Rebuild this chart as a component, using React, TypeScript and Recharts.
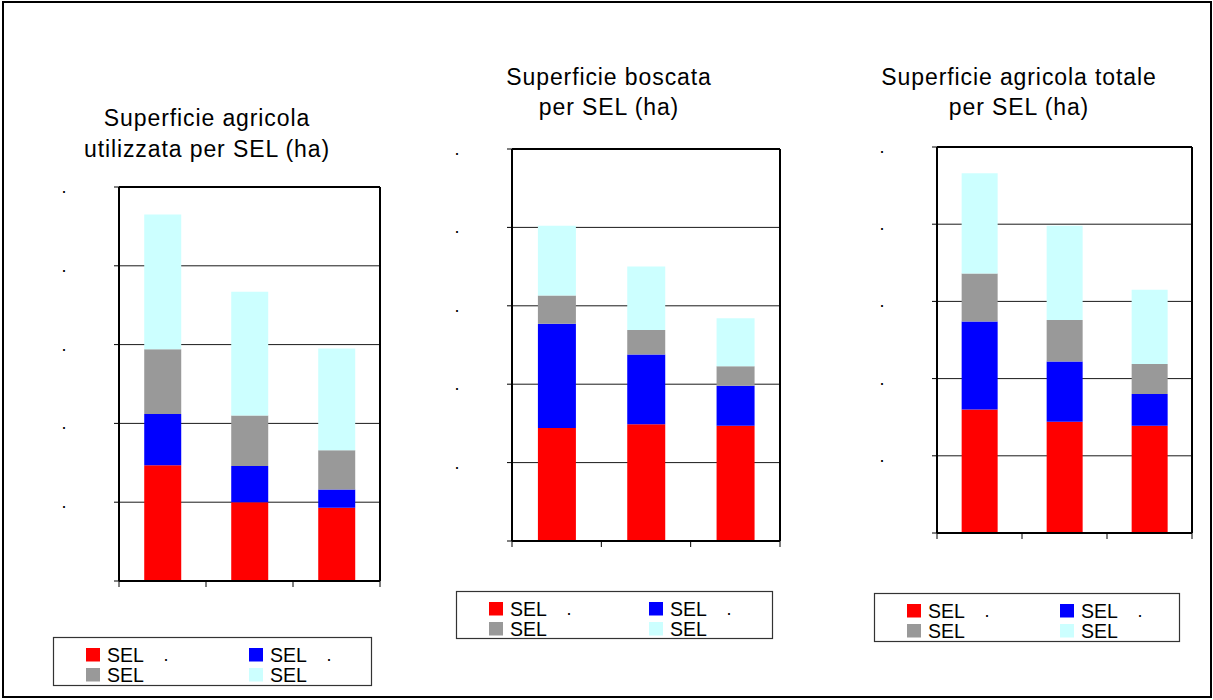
import { BarChart, Bar, XAxis, YAxis, CartesianGrid, ReferenceLine } from "recharts"

// categories (the three SEL areas) and the stacked series per chart
const categories = ["SEL 1", "SEL 2", "SEL 3"]
const seriesKeys = ["s1", "s2", "s3", "s4"]
const seriesColors = ["#FF0000", "#0000FF", "#999999", "#CCFFFF"]
const legendLabels = ["SEL", "SEL", "SEL", "SEL"]
const legendSuffix = [".", ".", "", ""]

// Superficie agricola utilizzata
const sauRed = [1.47, 1.0, 0.93]
const sauBlue = [0.65, 0.46, 0.23]
const sauGray = [0.82, 0.64, 0.5]
const sauCyan = [1.71, 1.57, 1.29]

// Superficie boscata
const boscRed = [1.44, 1.49, 1.47]
const boscBlue = [1.33, 0.89, 0.51]
const boscGray = [0.36, 0.31, 0.25]
const boscCyan = [0.89, 0.81, 0.61]

// Superficie agricola totale
const satRed = [1.6, 1.44, 1.39]
const satBlue = [1.14, 0.78, 0.41]
const satGray = [0.62, 0.54, 0.39]
const satCyan = [1.3, 1.22, 0.96]

// y ticks; the labels came through as dots only
const yTicks = [0, 1, 2, 3, 4, 5]
const yTickLabels = ["", ".", ".", ".", ".", "."]
// tick marks between the categories (excel style)
const sepTicks = [0, 1, 2, 3]

const titles = [
  ["Superficie agricola", "utilizzata per SEL (ha)"],
  ["Superficie boscata", "per SEL (ha)"],
  ["Superficie agricola totale", "per SEL (ha)"],
]

const FONT = "'Liberation Sans', Arial, sans-serif"

function buildRows(series: number[][]) {
  return categories.map((c, i) => {
    const row: Record<string, number | string> = { name: c }
    seriesKeys.forEach((k, j) => {
      row[k] = series[j][i]
    })
    return row
  })
}

const panels = [
  {
    rows: buildRows([sauRed, sauBlue, sauGray, sauCyan]),
    plot: { l: 119, t: 187, r: 380, b: 581 },
    title: { cx: 207, y1: 126, y2: 157 },
    legend: { x: 53, y: 637, w: 318, h: 48, col2: 196 },
  },
  {
    rows: buildRows([boscRed, boscBlue, boscGray, boscCyan]),
    plot: { l: 512, t: 149, r: 780, b: 541 },
    title: { cx: 609, y1: 85, y2: 115 },
    legend: { x: 456, y: 591, w: 316, h: 47, col2: 193 },
  },
  {
    rows: buildRows([satRed, satBlue, satGray, satCyan]),
    plot: { l: 937, t: 147, r: 1192, b: 533 },
    title: { cx: 1019, y1: 85, y2: 115 },
    legend: { x: 874, y: 593, w: 305, h: 48, col2: 186 },
  },
]

const DotTick = (props: any) => {
  const { x, y, payload } = props
  const idx = yTicks.indexOf(payload.value)
  return (
    <text x={x - 48} y={y + 6} fontSize={18} fontFamily={FONT} textAnchor="middle" fill="#000">
      {yTickLabels[idx] ?? ""}
    </text>
  )
}

const NoTick = () => <g />
const catPos = (d: any) => categories.indexOf(d.name) + 0.5

function Panel({ rows, plot }: { rows: any[]; plot: { l: number; t: number; r: number; b: number } }) {
  const axisW = 70
  const width = plot.r - plot.l + axisW + 10
  const height = plot.b - plot.t + 25
  return (
    <div style={{ position: "absolute", left: plot.l - axisW, top: plot.t - 10 }}>
      <BarChart
        width={width}
        height={height}
        data={rows}
        barCategoryGap="29%"
        margin={{ top: 10, right: 10, bottom: 0, left: 0 }}
      >
        <CartesianGrid vertical={false} stroke="#000" strokeOpacity={0.9} />
        <XAxis dataKey="name" hide height={0} />
        <XAxis
          xAxisId="sep"
          type="number"
          dataKey={catPos}
          domain={[0, 3]}
          ticks={sepTicks}
          interval={0}
          allowDataOverflow
          height={15}
          tickSize={6}
          tickLine={{ stroke: "#000" }}
          axisLine={{ stroke: "#000", strokeWidth: 2 }}
          tick={NoTick}
        />
        <YAxis
          domain={[0, 5]}
          ticks={yTicks}
          interval={0}
          width={axisW}
          tickSize={5}
          tickLine={{ stroke: "#000" }}
          axisLine={{ stroke: "#000", strokeWidth: 2 }}
          tick={DotTick}
        />
        {seriesKeys.map((k, j) => (
          <Bar key={k} dataKey={k} stackId="a" fill={seriesColors[j]} isAnimationActive={false} />
        ))}
        {/* plot frame: top and right edges */}
        <ReferenceLine y={5} stroke="#000" strokeWidth={2} />
        <ReferenceLine xAxisId="sep" x={3} stroke="#000" strokeWidth={2} />
      </BarChart>
    </div>
  )
}

function Legend4({ x, y, w, h, col2 }: { x: number; y: number; w: number; h: number; col2: number }) {
  const cols = [33, col2]
  const rowsY = [11, 31]
  return (
    <g>
      <rect x={x + 0.5} y={y + 0.5} width={w} height={h} fill="#fff" stroke="#333" strokeWidth={1.2} />
      {seriesKeys.map((k, j) => {
        const cx = x + cols[j % 2]
        const ry = y + rowsY[Math.floor(j / 2)]
        return (
          <g key={k}>
            <rect x={cx} y={ry} width={14} height={13.5} fill={seriesColors[j]} />
            <text x={cx + 21} y={ry + 13.5} fontSize={19.5} fontFamily={FONT} fill="#000">
              {legendLabels[j]}
            </text>
            {legendSuffix[j] && (
              <text x={cx + 80} y={ry + 13} fontSize={18} fontFamily={FONT} fill="#000" textAnchor="middle">
                {legendSuffix[j]}
              </text>
            )}
          </g>
        )
      })}
    </g>
  )
}

export default function App() {
  return (
    <div style={{ position: "absolute", left: 0, top: 0, width: 1213, height: 700, background: "#fff" }}>
      {panels.map((p, i) => (
        <Panel key={i} rows={p.rows} plot={p.plot} />
      ))}
      <svg width={1213} height={700} style={{ position: "absolute", left: 0, top: 0, pointerEvents: "none" }}>
        <rect x={3} y={2} width={1208} height={695} fill="none" stroke="#000" strokeWidth={2} />
        {panels.map((p, i) => (
          <g key={i}>
            <text
              x={p.title.cx}
              y={p.title.y1}
              fontSize={23}
              letterSpacing={0.9}
              fontFamily={FONT}
              textAnchor="middle"
              fill="#000"
            >
              {titles[i][0]}
            </text>
            <text
              x={p.title.cx}
              y={p.title.y2}
              fontSize={23}
              letterSpacing={0.9}
              fontFamily={FONT}
              textAnchor="middle"
              fill="#000"
            >
              {titles[i][1]}
            </text>
            <Legend4 {...p.legend} />
          </g>
        ))}
      </svg>
    </div>
  )
}
